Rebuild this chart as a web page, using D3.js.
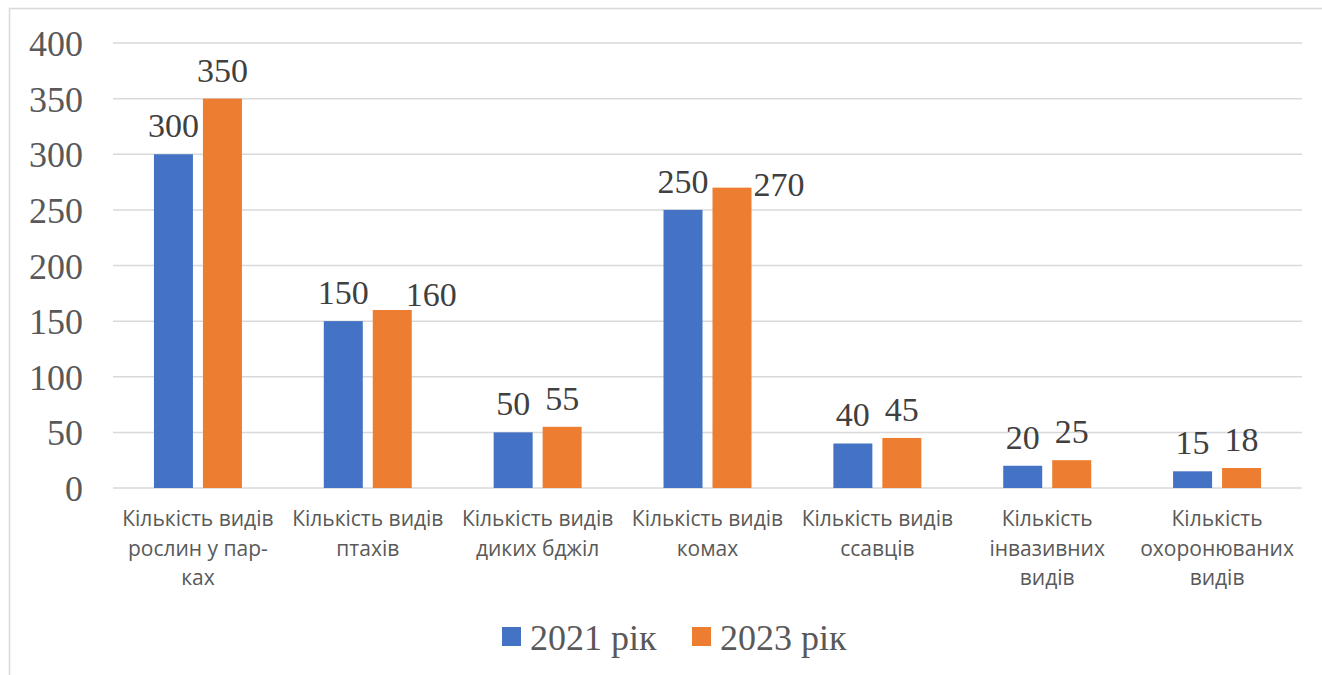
<!DOCTYPE html>
<html>
<head>
<meta charset="utf-8">
<script src="https://cdn.jsdelivr.net/npm/d3@7"></script>
<style>
  body { margin: 0; background: #fff; }
  svg { display: block; }
</style>
</head>
<body>
<svg id="myGraph" width="1322" height="675"></svg>
<script>
// дані
var categories = [
  "Кількість видів\nрослин у пар-\nках",
  "Кількість видів\nптахів",
  "Кількість видів\nдиких бджіл",
  "Кількість видів\nкомах",
  "Кількість видів\nссавців",
  "Кількість\nінвазивних\nвидів",
  "Кількість\nохоронюваних\nвидів"
];
var series = ["2021 рік", "2023 рік"];
var values2021 = [300, 150, 50, 250, 40, 20, 15];
var values2023 = [350, 160, 55, 270, 45, 25, 18];
var yTicks = [0, 50, 100, 150, 200, 250, 300, 350, 400];

var colors = ["#4472c4", "#ed7d31"];
var serif = "'Liberation Serif', 'Times New Roman', serif";
var sans = "'Open Sans', 'Noto Sans', sans-serif";

var svg = d3.select("#myGraph");

// рамка
svg.append("rect")
  .attr("x", 9.5).attr("y", 8.5)
  .attr("width", 1340).attr("height", 700)
  .attr("fill", "none")
  .attr("stroke", "#d9d9d9")
  .attr("stroke-width", 1.5);

var plotLeft = 113, plotRight = 1302, plotTop = 43, plotBottom = 488;

var y = d3.scaleLinear().domain([0, 400]).range([plotBottom, plotTop]);
var x0 = d3.scaleBand().domain(categories).range([plotLeft, plotRight])
  .paddingInner(0.482).paddingOuter(0.241);
var x1 = d3.scaleBand().domain(series).range([0, x0.bandwidth()])
  .paddingInner(0.204);

// сітка
svg.append("g")
  .selectAll("line")
  .data(yTicks)
  .enter()
  .append("line")
  .attr("x1", plotLeft).attr("x2", plotRight)
  .attr("y1", function(d){ return y(d); })
  .attr("y2", function(d){ return y(d); })
  .attr("stroke", "#d9d9d9")
  .attr("stroke-width", 1.5);

// вісь Y
var yAxis = svg.append("g")
  .attr("transform", "translate(" + (plotLeft - 30) + ",0)")
  .call(d3.axisLeft(y).tickValues(yTicks).tickSize(0).tickPadding(0));
yAxis.select(".domain").remove();
yAxis.selectAll("text")
  .attr("font-family", serif)
  .attr("font-size", 36)
  .attr("fill", "#595959")
  .attr("dy", "0.35em");

// стовпці
var rows = categories.map(function(c, i){
  return { cat: c, vals: [values2021[i], values2023[i]] };
});

var groups = svg.append("g")
  .selectAll("g")
  .data(rows)
  .enter()
  .append("g")
  .attr("transform", function(d){ return "translate(" + x0(d.cat) + ",0)"; });

groups.selectAll("rect")
  .data(function(d){ return d.vals.map(function(v, j){ return { s: series[j], v: v, j: j }; }); })
  .enter()
  .append("rect")
  .attr("x", function(d){ return x1(d.s); })
  .attr("y", function(d){ return y(d.v); })
  .attr("width", x1.bandwidth())
  .attr("height", function(d){ return plotBottom - y(d.v); })
  .attr("fill", function(d){ return colors[d.j]; });

// підписи значень (Excel зсуває деякі праворуч)
var nudge = { "1-1": [39, 13], "3-1": [47, 25] };
groups.each(function(row, i){
  d3.select(this).selectAll("text")
    .data(row.vals.map(function(v, j){ return { s: series[j], v: v, j: j }; }))
    .enter()
    .append("text")
    .attr("x", function(d){
      var n = nudge[i + "-" + d.j];
      return x1(d.s) + x1.bandwidth() / 2 + (n ? n[0] : 0);
    })
    .attr("y", function(d){
      var n = nudge[i + "-" + d.j];
      return y(d.v) - 29 + (n ? n[1] : 0);
    })
    .attr("dy", "0.35em")
    .attr("text-anchor", "middle")
    .attr("font-family", serif)
    .attr("font-size", 34)
    .attr("fill", "#404040")
    .text(function(d){ return d.v; });
});

// підписи категорій
var catLabels = svg.append("g")
  .selectAll("text")
  .data(categories)
  .enter()
  .append("text")
  .attr("x", function(d){ return x0(d) + x0.bandwidth() / 2; })
  .attr("y", 519)
  .attr("text-anchor", "middle")
  .attr("font-family", sans)
  .attr("font-size", 21)
  .attr("fill", "#595959");
catLabels.each(function(d){
  var lines = d.split("\n");
  d3.select(this).selectAll("tspan")
    .data(lines)
    .enter()
    .append("tspan")
    .attr("x", x0(d) + x0.bandwidth() / 2)
    .attr("dy", function(l, k){ return k === 0 ? "0.35em" : 29.5; })
    .text(function(l){ return l; });
});

// легенда
var legendX = [502, 692];
var legend = svg.append("g")
  .selectAll("g")
  .data(series)
  .enter()
  .append("g")
  .attr("transform", function(d, i){ return "translate(" + legendX[i] + ",627)"; });
legend.append("rect")
  .attr("width", 19).attr("height", 19)
  .attr("fill", function(d, i){ return colors[i]; });
legend.append("text")
  .attr("x", 28).attr("y", 10)
  .attr("dy", "0.35em")
  .attr("font-family", serif)
  .attr("font-size", 36)
  .attr("fill", "#595959")
  .text(function(d){ return d; });
</script>
</body>
</html>
